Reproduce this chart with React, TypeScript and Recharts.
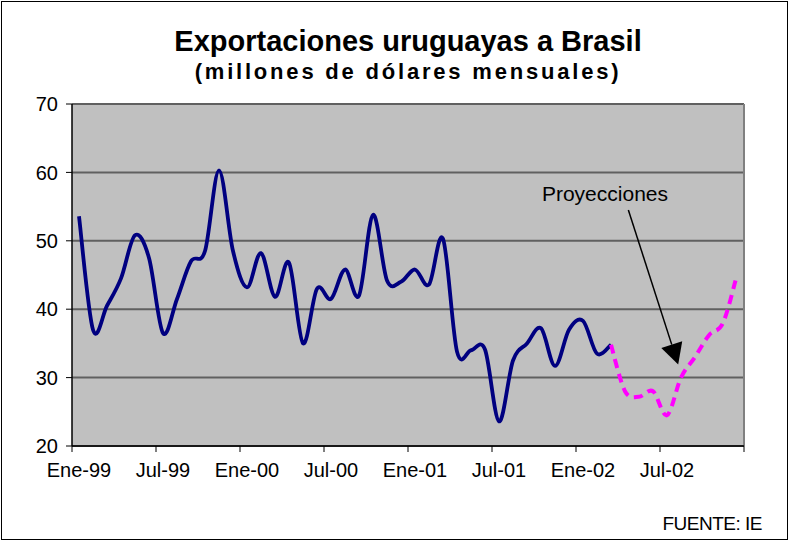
import React from 'react';
import { LineChart, Line, XAxis, YAxis, CartesianGrid, ReferenceLine, ReferenceDot } from 'recharts';

// half-year labels on the category axis
const tickLabels = ['Ene-99', 'Jul-99', 'Ene-00', 'Jul-00', 'Ene-01', 'Jul-01', 'Ene-02', 'Jul-02'];

// monthly exports, Ene-99 .. Mar-02
const actual = [
  53.6, 37.0, 40.5, 44.5, 50.8, 47.5, 36.5, 41.5, 47.0, 48.5, 60.3, 48.5,
  43.2, 48.2, 41.8, 46.8, 35.0, 43.0, 41.5, 45.8, 42.0, 53.8, 44.2, 44.0,
  45.8, 43.6, 50.3, 33.8, 34.0, 34.1, 23.6, 32.5, 35.0, 37.2, 31.7, 37.0,
  38.3, 33.5, 34.8,
];

// projection, Mar-02 .. Dic-02
const projection = [34.8, 28.0, 27.2, 28.0, 24.5, 30.0, 33.0, 36.2, 38.0, 45.0];

const yTicks = [20, 30, 40, 50, 60, 70];
const xTicks = [0, 6, 12, 18, 24, 30, 36, 42, 48];

const projStart = actual.length - 1;
const data = Array.from({ length: 48 }, (_, i) => ({
  m: i + 0.5,
  actual: i < actual.length ? actual[i] : null,
  proj: i >= projStart ? projection[i - projStart] : null,
}));

const font = '"Liberation Sans", Arial, sans-serif';

// Excel-style smoothed line (Bezier with Catmull-Rom tangents)
const excelSmooth = (context: any) => {
  let pts: number[][] = [];
  return {
    areaStart() {},
    areaEnd() {},
    lineStart() {
      pts = [];
    },
    lineEnd() {
      const n = pts.length;
      if (!n) return;
      context.moveTo(pts[0][0], pts[0][1]);
      for (let i = 0; i < n - 1; i++) {
        const p0 = pts[i - 1] || pts[i];
        const p1 = pts[i];
        const p2 = pts[i + 1];
        const p3 = pts[i + 2] || p2;
        context.bezierCurveTo(
          p1[0] + (p2[0] - p0[0]) / 6,
          p1[1] + (p2[1] - p0[1]) / 6,
          p2[0] - (p3[0] - p1[0]) / 6,
          p2[1] - (p3[1] - p1[1]) / 6,
          p2[0],
          p2[1]
        );
      }
    },
    point(x: number, y: number) {
      pts.push([+x, +y]);
    },
  };
};

const MonthTick = (props: any) => {
  const { x, y, payload } = props;
  const label = tickLabels[payload.value / 6];
  if (!label) return null;
  return (
    <text x={x + 7} y={y + 25} textAnchor="middle" fontSize={20} fontFamily={font} fill="#000">
      {label}
    </text>
  );
};

const Arrow = (props: any) => {
  const { x1, y1, x2, y2 } = props;
  const dx = x2 - x1;
  const dy = y2 - y1;
  const len = Math.sqrt(dx * dx + dy * dy);
  const ux = dx / len;
  const uy = dy / len;
  const headLen = 21;
  const half = 11;
  const bx = x2 - ux * headLen;
  const by = y2 - uy * headLen;
  return (
    <g>
      <line x1={x1} y1={y1} x2={bx} y2={by} stroke="#000" strokeWidth={1.5} />
      <polygon
        points={`${x2},${y2} ${bx - uy * half},${by + ux * half} ${bx + uy * half},${by - ux * half}`}
        fill="#000"
      />
    </g>
  );
};

export default function App() {
  return (
    <div style={{ position: 'absolute', left: 0, top: 0, width: 789, height: 541, background: '#fff', fontFamily: font }}>
      <div style={{ position: 'absolute', left: 1, top: 1, width: 785, height: 537, border: '1px solid #000' }} />
      <div style={{ position: 'absolute', left: 72, width: 672, top: 27, textAlign: 'center', fontSize: 29, lineHeight: '29px', fontWeight: 'bold' }}>
        Exportaciones uruguayas a Brasil
      </div>
      <div style={{ position: 'absolute', left: 72, width: 672, top: 61, textAlign: 'center', fontSize: 22, lineHeight: '22px', fontWeight: 'bold', letterSpacing: 2.8 }}>
        (millones de dólares mensuales)
      </div>
      <LineChart
        width={789}
        height={541}
        data={data}
        margin={{ top: 104, right: 45, left: 0, bottom: 65 }}
        style={{ position: 'absolute', left: 0, top: 0 }}
      >
        <CartesianGrid vertical={false} fill="#C0C0C0" stroke="#606060" strokeWidth={2} />
        <XAxis
          dataKey="m"
          type="number"
          domain={[0, 48]}
          ticks={xTicks}
          interval={0}
          height={30}
          tickSize={6}
          tickMargin={0}
          tick={<MonthTick />}
          axisLine={{ stroke: '#000', strokeWidth: 1.5 }}
          tickLine={{ stroke: '#000' }}
        />
        <YAxis
          domain={[20, 70]}
          ticks={yTicks}
          width={72}
          tickSize={6}
          tickMargin={8}
          interval={0}
          axisLine={{ stroke: '#000', strokeWidth: 1.5 }}
          tickLine={{ stroke: '#000' }}
          tick={{ fill: '#000', fontSize: 20, fontFamily: font }}
        />
        <ReferenceLine x={48} stroke="#808080" strokeWidth={2} />
        <Line
          dataKey="actual"
          type={excelSmooth as any}
          stroke="#000080"
          strokeWidth={3.8}
          dot={false}
          connectNulls={false}
          isAnimationActive={false}
        />
        <Line
          dataKey="proj"
          type={excelSmooth as any}
          stroke="#FF00FF"
          strokeWidth={4}
          strokeDasharray="9 6"
          dot={false}
          connectNulls={false}
          isAnimationActive={false}
        />
        <ReferenceLine
          segment={[{ x: 39.74, y: 54.5 }, { x: 43.3, y: 31.9 }]}
          shape={(p: any) => <Arrow {...p} />}
        />
        <ReferenceDot
          x={38.07}
          y={56.9}
          r={0}
          shape={(p: any) => (
            <text x={p.cx} y={p.cy + 7} textAnchor="middle" fontSize={21} fontFamily={font} fill="#000">
              Proyecciones
            </text>
          )}
        />
      </LineChart>
      <div style={{ position: 'absolute', right: 27, top: 514, fontSize: 19, lineHeight: '19px', letterSpacing: -0.5 }}>
        FUENTE: IE
      </div>
    </div>
  );
}
